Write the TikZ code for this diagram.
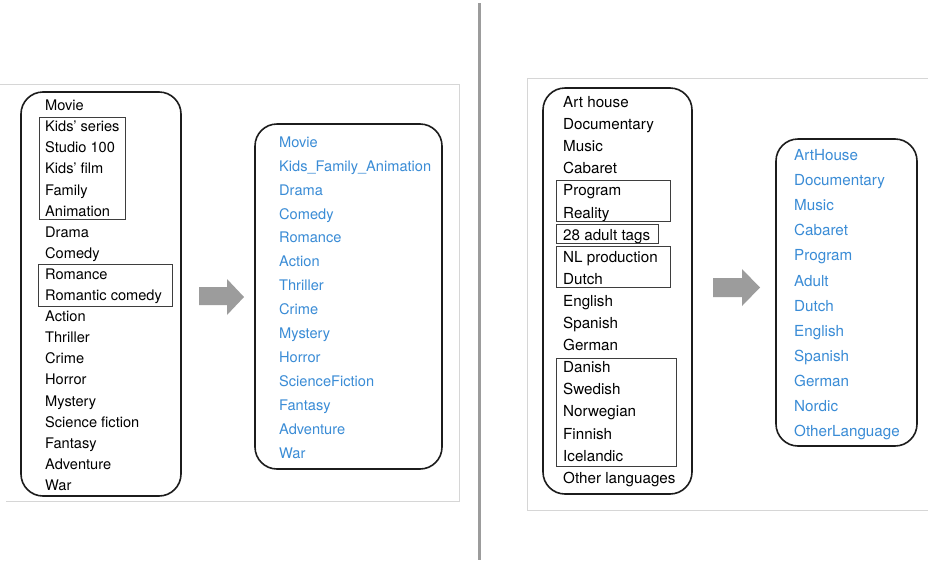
\documentclass[tikz,border=0pt]{standalone}
\usepackage{fontspec}
\setmainfont{TeX Gyre Heros}
\definecolor{tagblue}{RGB}{58,140,214}
\definecolor{arrowgray}{RGB}{156,156,156}
\definecolor{framegray}{RGB}{214,214,214}
\definecolor{boxink}{RGB}{28,28,28}
\tikzset{
  listbox/.style={draw=boxink, line width=1.6pt, rounded corners=22pt},
  groupbox/.style={draw=boxink!85, line width=1pt},
  rawtag/.style={anchor=base west, inner sep=0pt, text=black},
  cleantag/.style={anchor=base west, inner sep=0pt, text=tagblue},
  blockarrow/.style={fill=arrowgray, draw=none},
  panelframe/.style={draw=framegray, line width=0.8pt},
}
\begin{document}
\begin{tikzpicture}[x=1pt,y=-1pt]
\useasboundingbox (0,0) rectangle (928,560);
\fill[white] (0,0) rectangle (928,560);

% divider between the two panels
\draw[arrowgray, line width=3pt] (479,3) -- (479,560);

% ---------------- genre panel ----------------
\draw[panelframe] (0,84) -- (459,84) -- (459,501) -- (6,501);

\draw[listbox] (21,92) rectangle (181,496);
\begin{scope}[font=\fontsize{14.6}{17}\selectfont]
\foreach \t [count=\i from 0] in {Movie,Kids’ series,Studio 100,Kids’ film,Family,Animation,Drama,Comedy,Romance,Romantic comedy,Action,Thriller,Crime,Horror,Mystery,Science fiction,Fantasy,Adventure,War}
  \node[rawtag] (g\i) at (45,{110.6+21.1*\i}) {\t};
\end{scope}
\draw[groupbox] (39,117) rectangle (125,219);
\draw[groupbox] (38,264) rectangle (172,306);

\fill[blockarrow] (199,287) -- (227,287) -- (227,279) -- (244,297) -- (227,315) -- (227,305) -- (199,305) -- cycle;

\draw[listbox] (255,124) rectangle (442,469);
\begin{scope}[font=\fontsize{14.6}{17}\selectfont]
\foreach \t [count=\i from 0] in {Movie,Kids\_Family\_Animation,Drama,Comedy,Romance,Action,Thriller,Crime,Mystery,Horror,ScienceFiction,Fantasy,Adventure,War}
  \node[cleantag] (h\i) at (279,{147.3+23.9*\i}) {\t};
\end{scope}

% ---------------- language panel ----------------
\draw[panelframe] (928,78) -- (527,78) -- (527,510) -- (928,510);

\draw[listbox] (543,88) rectangle (692,494);
\begin{scope}[font=\fontsize{15.2}{18}\selectfont]
\foreach \t [count=\i from 0] in {Art house,Documentary,Music,Cabaret,Program,Reality,28 adult tags,NL production,Dutch,English,Spanish,German,Danish,Swedish,Norwegian,Finnish,Icelandic,Other languages}
  \node[rawtag] (l\i) at (563,{107.5+22.1*\i}) {\t};
\end{scope}
\draw[groupbox] (556,180) rectangle (670,221);
\draw[groupbox] (556,224) rectangle (658,243);
\draw[groupbox] (556,246) rectangle (670,287);
\draw[groupbox] (556,358) rectangle (676,466);

\fill[blockarrow] (713,278) -- (742,278) -- (742,269) -- (760,287.5) -- (742,306) -- (742,297) -- (713,297) -- cycle;

\draw[listbox] (776,139) rectangle (917,446);
\begin{scope}[font=\fontsize{15.2}{18}\selectfont]
\foreach \t [count=\i from 0] in {ArtHouse,Documentary,Music,Cabaret,Program,Adult,Dutch,English,Spanish,German,Nordic,OtherLanguage}
  \node[cleantag] (m\i) at (794,{160.5+25.1*\i}) {\t};
\end{scope}
\end{tikzpicture}
\end{document}
